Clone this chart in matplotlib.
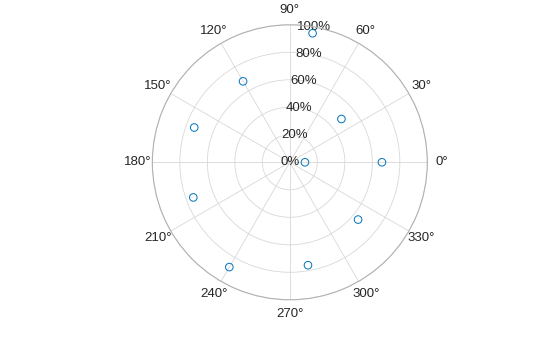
import numpy as np
import matplotlib
matplotlib.use('Agg')
import matplotlib.pyplot as plt

# polar scatter, angles in degrees, radius as fraction (0..1 -> 0..100%)
theta_deg = [0, 40, 80, 120, 160, 200, 240, 280, 320, 360]
r_vals = [0.11, 0.49, 0.953, 0.68, 0.74, 0.747, 0.88, 0.76, 0.648, 0.67]
r_ticks = [0, 0.2, 0.4, 0.6, 0.8, 1.0]
r_labels = ['0%', '20%', '40%', '60%', '80%', '100%']
theta_ticks = list(range(0, 360, 30))
theta_labels = [f'{t}°' for t in theta_ticks]

plt.rcParams['font.family'] = ['Liberation Sans', 'DejaVu Sans']

fig = plt.figure(figsize=(5.6, 3.37), dpi=100)
ax = fig.add_axes([0.2720, 0.1104, 0.4911, 0.816], projection='polar')

ax.scatter(np.deg2rad(theta_deg), r_vals, s=30, facecolors='none',
           edgecolors='#0072BD', linewidths=0.7, zorder=3)

ax.set_ylim(0, 1)
ax.set_yticks(r_ticks)
ax.set_yticklabels([])
ax.set_thetagrids(theta_ticks, theta_labels)
ax.tick_params(axis='x', labelsize=9.5, colors='#262626', pad=0)
ax.grid(True, color='#d8d8d8', linewidth=0.6)
ax.spines['polar'].set_color('#b0b0b0')
ax.spines['polar'].set_linewidth(0.8)

for r, lab in zip(r_ticks, r_labels):
    ax.text(np.deg2rad(80), r, lab, ha='center', va='center',
            fontsize=9.5, color='#262626', zorder=2)

fig.savefig('out.png', dpi=100)
